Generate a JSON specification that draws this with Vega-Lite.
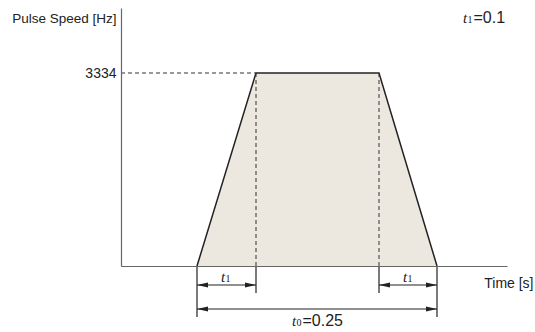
{
  "$schema": "https://vega.github.io/schema/vega-lite/v6.json",
  "width": 386,
  "height": 258,
  "autosize": "none",
  "padding": {"left": 121, "top": 8, "right": 28, "bottom": 66},
  "background": "white",
  "config": {"view": {"stroke": null}, "font": "Liberation Sans"},
  "datasets": {
    "shape": [
      {"t": 76, "v": 0},
      {"t": 135, "v": 3334},
      {"t": 258, "v": 3334},
      {"t": 316, "v": 0}
    ],
    "solid": [
      {"t": 76, "t2": 76, "v": 0, "v2": -881},
      {"t": 316, "t2": 316, "v": 0, "v2": -881},
      {"t": 135, "t2": 135, "v": 0, "v2": -466},
      {"t": 258, "t2": 258, "v": 0, "v2": -466},
      {"t": 76, "t2": 135, "v": -328, "v2": -328},
      {"t": 258, "t2": 316, "v": -328, "v2": -328},
      {"t": 76, "t2": 316, "v": -743, "v2": -743}
    ],
    "dashed": [
      {"t": 0, "t2": 135, "v": 3334, "v2": 3334},
      {"t": 135, "t2": 135, "v": 3334, "v2": 0},
      {"t": 258, "t2": 258, "v": 3334, "v2": 0}
    ],
    "arrowL": [
      {"t": 76, "v": -328},
      {"t": 258, "v": -328},
      {"t": 76, "v": -743}
    ],
    "arrowR": [
      {"t": 135, "v": -328},
      {"t": 316, "v": -328},
      {"t": 316, "v": -743}
    ],
    "labels": [
      {"t": 100, "v": -190, "main": "t", "sub": "1", "rest": ""},
      {"t": 282, "v": -190, "main": "t", "sub": "1", "rest": ""},
      {"t": 171, "v": -950, "main": "t", "sub": "0", "rest": "=0.25"},
      {"t": 342, "v": 4284, "main": "t", "sub": "1", "rest": "=0.1"}
    ]
  },
  "layer": [
    {
      "data": {"name": "shape"},
      "mark": {"type": "area", "color": "#ece8df", "clip": false},
      "encoding": {
        "x": {"field": "t", "type": "quantitative", "title": "Time [s]", "scale": {"domain": [0, 386], "nice": false, "zero": false},
          "axis": {"values": [], "ticks": false, "labels": false, "grid": false, "domainColor": "#666", "domainWidth": 1.2, "zindex": 1,
            "titleX": 412, "titleY": 17, "titleAlign": "right", "titleBaseline": "middle", "titleFontWeight": "normal", "titleFontSize": 14, "titleColor": "#222", "titleFont": "Liberation Sans"}},
        "y": {"field": "v", "type": "quantitative", "title": "Pulse Speed [Hz]", "scale": {"domain": [0, 4457], "nice": false, "zero": false},
          "axis": {"values": [3334], "format": "d", "ticks": false, "grid": false, "domainColor": "#666", "domainWidth": 1.2, "zindex": 1,
            "labelPadding": 5, "labelFontSize": 14, "labelColor": "#222", "labelFont": "Liberation Sans",
            "titleAngle": 0, "titleX": -5, "titleY": 10, "titleAlign": "right", "titleBaseline": "middle", "titleFontWeight": "normal", "titleFontSize": 13.5, "titleColor": "#222", "titleFont": "Liberation Sans"}}
      }
    },
    {
      "data": {"name": "shape"},
      "mark": {"type": "line", "color": "#222", "strokeWidth": 1.5, "clip": false},
      "encoding": {
        "x": {"field": "t", "type": "quantitative", "title": "Time [s]"},
        "y": {"field": "v", "type": "quantitative", "title": "Pulse Speed [Hz]"}
      }
    },
    {
      "data": {"name": "dashed"},
      "mark": {"type": "rule", "color": "#333", "strokeWidth": 1, "strokeDash": [4, 3], "clip": false},
      "encoding": {
        "x": {"field": "t", "type": "quantitative", "title": "Time [s]"},
        "x2": {"field": "t2"},
        "y": {"field": "v", "type": "quantitative", "title": "Pulse Speed [Hz]"},
        "y2": {"field": "v2"}
      }
    },
    {
      "data": {"name": "solid"},
      "mark": {"type": "rule", "color": "#222", "strokeWidth": 1.2, "clip": false},
      "encoding": {
        "x": {"field": "t", "type": "quantitative", "title": "Time [s]"},
        "x2": {"field": "t2"},
        "y": {"field": "v", "type": "quantitative", "title": "Pulse Speed [Hz]"},
        "y2": {"field": "v2"}
      }
    },
    {
      "data": {"name": "arrowL"},
      "mark": {"type": "point", "shape": "M0,0L2,-0.45L2,0.45Z", "filled": true, "color": "#222", "opacity": 1, "size": 121, "clip": false},
      "encoding": {
        "x": {"field": "t", "type": "quantitative", "title": "Time [s]"},
        "y": {"field": "v", "type": "quantitative", "title": "Pulse Speed [Hz]"}
      }
    },
    {
      "data": {"name": "arrowR"},
      "mark": {"type": "point", "shape": "M0,0L-2,-0.45L-2,0.45Z", "filled": true, "color": "#222", "opacity": 1, "size": 121, "clip": false},
      "encoding": {
        "x": {"field": "t", "type": "quantitative", "title": "Time [s]"},
        "y": {"field": "v", "type": "quantitative", "title": "Pulse Speed [Hz]"}
      }
    },
    {
      "data": {"name": "labels"},
      "mark": {"type": "text", "font": "Liberation Serif", "fontStyle": "italic", "fontSize": 15, "align": "left", "baseline": "middle", "color": "#222", "clip": false},
      "encoding": {
        "x": {"field": "t", "type": "quantitative", "title": "Time [s]"},
        "y": {"field": "v", "type": "quantitative", "title": "Pulse Speed [Hz]"},
        "text": {"field": "main"}
      }
    },
    {
      "data": {"name": "labels"},
      "mark": {"type": "text", "font": "Liberation Serif", "fontSize": 10, "align": "left", "baseline": "middle", "dx": 4.5, "dy": 2, "color": "#222", "clip": false},
      "encoding": {
        "x": {"field": "t", "type": "quantitative", "title": "Time [s]"},
        "y": {"field": "v", "type": "quantitative", "title": "Pulse Speed [Hz]"},
        "text": {"field": "sub"}
      }
    },
    {
      "data": {"name": "labels"},
      "mark": {"type": "text", "font": "Liberation Sans", "fontSize": 16, "align": "left", "baseline": "middle", "dx": 10.5, "color": "#222", "clip": false},
      "encoding": {
        "x": {"field": "t", "type": "quantitative", "title": "Time [s]"},
        "y": {"field": "v", "type": "quantitative", "title": "Pulse Speed [Hz]"},
        "text": {"field": "rest"}
      }
    }
  ]
}
